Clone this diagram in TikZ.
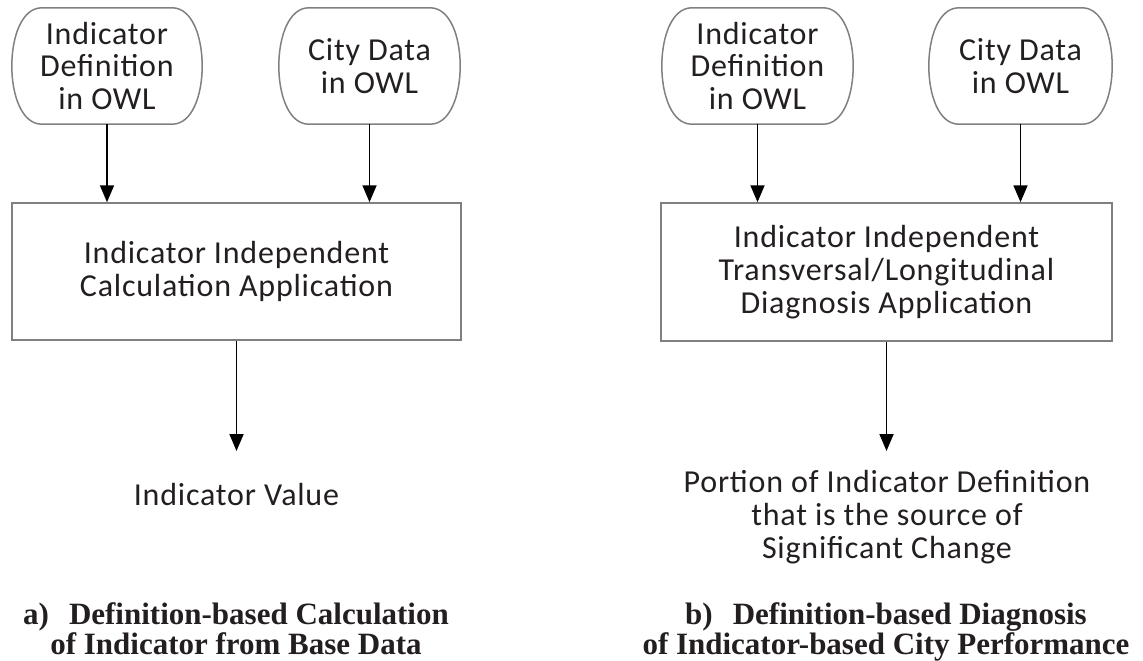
\documentclass[tikz,border=0pt]{standalone}
\usepackage{fontspec}
\setmainfont{Carlito}[LetterSpace=2.5]
\newfontfamily\capfont{Liberation Serif}
\usetikzlibrary{arrows.meta}
\definecolor{txt}{RGB}{35,31,32}
\definecolor{edge}{RGB}{128,128,128}
\newcommand\drawterm[1]{%
  \draw[termline] ([xshift=30pt]#1.north west) -- ([xshift=-30pt]#1.north east)
    .. controls ([xshift=10pt]#1.north east) and ([xshift=10pt]#1.south east) .. ([xshift=-30pt]#1.south east)
    -- ([xshift=30pt]#1.south west)
    .. controls ([xshift=-10pt]#1.south west) and ([xshift=-10pt]#1.north west) .. cycle;}
\begin{document}
\begin{tikzpicture}[x=1pt,y=-1pt,
  bodytext/.style={font=\fontsize{32}{33}\selectfont, text=txt, align=center, inner sep=0pt},
  term/.style={bodytext, minimum height=116pt},
  termline/.style={draw=edge, line width=1.5pt},
  procbox/.style={bodytext, draw=edge, line width=1.5pt},
  arr/.style={draw=black, line width=1.8pt, -{Triangle[width=14pt,length=17pt]}},
  captext/.style={font=\capfont\bfseries\fontsize{31}{28}\selectfont, text=txt, align=center, inner sep=0pt}]
\useasboundingbox (0,0) rectangle (1143,661);

% ---------- a) ----------
\node[term, minimum width=190pt] (defA) at (107,66) {Indicator\\Definition\\in OWL};
\node[term, minimum width=181pt] (cityA) at (369.5,66) {City Data\\in OWL};
\drawterm{defA}
\drawterm{cityA}
\node[procbox, minimum width=449pt, minimum height=137pt] (boxA) at (236.5,271.5)
  {Indicator Independent\\Calculation Application};
\draw[arr] (defA.south) -- (defA.south |- boxA.north);
\draw[arr] (cityA.south) -- (cityA.south |- boxA.north);
\coordinate (tipA) at (236.5,451);
\draw[arr] (boxA.south) -- (tipA);
\node[bodytext, anchor=base] (outA) at (236.5,505) {Indicator Value};
\node[captext, anchor=base] (capA) at (236,654)
  {a)\hspace{20pt}Definition-based Calculation\\of Indicator from Base Data};

% ---------- b) ----------
\node[term, minimum width=191pt] (defB) at (757.5,66) {Indicator\\Definition\\in OWL};
\node[term, minimum width=183pt] (cityB) at (1020.5,66) {City Data\\in OWL};
\drawterm{defB}
\drawterm{cityB}
\node[procbox, minimum width=451pt, minimum height=138pt] (boxB) at (886.5,272)
  {Indicator Independent\\Transversal/Longitudinal\\Diagnosis Application};
\draw[arr] (defB.south) -- (defB.south |- boxB.north);
\draw[arr] (cityB.south) -- (cityB.south |- boxB.north);
\coordinate (tipB) at (886.5,451);
\draw[arr] (boxB.south) -- (tipB);
\node[bodytext, anchor=base] (outB) at (887,558)
  {Portion of Indicator Definition\\that is the source of\\Significant Change};
\node[captext, anchor=base] (capB) at (886,654)
  {b)\hspace{20pt}Definition-based Diagnosis\\of Indicator-based City Performance};
\end{tikzpicture}
\end{document}
